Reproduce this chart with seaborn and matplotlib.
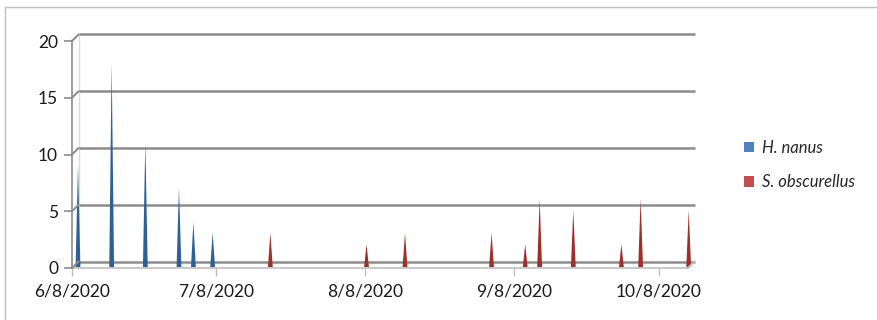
import numpy as np
import pandas as pd
import matplotlib
matplotlib.use("Agg")
import matplotlib.pyplot as plt
import matplotlib.transforms as mtransforms
import matplotlib.dates as mdates
from matplotlib.patches import Patch
import seaborn as sns

# ---- data ----
h_dates = ["2020-06-08", "2020-06-15", "2020-06-22", "2020-06-29", "2020-07-02", "2020-07-06"]
h_values = [9, 18, 11, 7, 4, 3]
s_dates = ["2020-07-18", "2020-08-07", "2020-08-15", "2020-09-02", "2020-09-09",
           "2020-09-12", "2020-09-19", "2020-09-29", "2020-10-03", "2020-10-13"]
s_values = [3, 2, 3, 3, 2, 6, 5, 2, 6, 5]
series_names = ["H. nanus", "S. obscurellus"]
tick_dates = ["2020-06-08", "2020-07-08", "2020-08-08", "2020-09-08", "2020-10-08"]
tick_labels = ["6/8/2020", "7/8/2020", "8/8/2020", "9/8/2020", "10/8/2020"]
y_ticks = [0, 5, 10, 15, 20]

df = pd.DataFrame({
    "date": pd.to_datetime(h_dates + s_dates),
    "value": h_values + s_values,
    "species": [series_names[0]] * len(h_dates) + [series_names[1]] * len(s_dates),
})

sns.set_theme(style="white")
plt.rcParams["font.family"] = ["Lato", "DejaVu Sans"]

W, H = 877, 320
fig = plt.figure(figsize=(W / 100, H / 100), dpi=100)
ax = fig.add_axes([72 / W, 52 / H, (688 - 72) / W, (268 - 41) / H])

x0 = mdates.date2num(pd.Timestamp("2020-06-08"))
ax.set_xlim(x0, x0 + 128.1)
ax.set_ylim(0, 20)

grid_col = "#8c8c8c"
dx, dy = 6.5, 6.5  # 3D depth offset in pixels
back = mtransforms.offset_copy(ax.transData, fig=fig, x=dx, y=dy, units="dots")
xl = ax.get_xlim()

# back wall gridlines and connectors
for v in y_ticks:
    ax.plot([xl[0], xl[1]], [v, v], transform=back, color=grid_col, lw=1.8,
            solid_capstyle="butt", clip_on=False, zorder=1)
    p0 = ax.transData.transform((xl[0], v))
    p1 = back.transform((xl[0], v))
    fig.add_artist(plt.Line2D([p0[0] / W, p1[0] / W], [p0[1] / H, p1[1] / H],
                              transform=fig.transFigure, color=grid_col, lw=1.5))
ax.plot([xl[0], xl[0]], [0, 20], transform=back, color="#d9d9d9", lw=0.8,
        clip_on=False, zorder=0)

# floor (front edge + right slant)
ax.plot([xl[0], xl[1]], [0, 0], color="#bfbfbf", lw=1.2, clip_on=False, zorder=1)
pr0 = ax.transData.transform((xl[1], 0))
pr1 = back.transform((xl[1], 0))
fig.add_artist(plt.Line2D([pr0[0] / W, pr1[0] / W], [pr0[1] / H, pr1[1] / H],
                          transform=fig.transFigure, color="#bfbfbf", lw=1.5))

# spikes (thin cones)
spike_tr = mtransforms.offset_copy(ax.transData, fig=fig, x=6.0, y=1.0, units="dots")
colors = {series_names[0]: "#2f5f98", series_names[1]: "#9e2f2b"}
half_w = 0.5  # days
for _, r in df.iterrows():
    d = mdates.date2num(r["date"])
    ax.fill([d - half_w, d, d + half_w], [0, r["value"], 0], color=colors[r["species"]],
            transform=spike_tr, lw=0, zorder=3, clip_on=False)

# axes styling
for s in ["top", "right", "bottom"]:
    ax.spines[s].set_visible(False)
ax.spines["left"].set_color(grid_col)
ax.spines["left"].set_linewidth(1.2)
ax.set_yticks(y_ticks)
ax.set_yticklabels([str(v) for v in y_ticks])
ax.set_xticks([mdates.date2num(pd.Timestamp(t)) for t in tick_dates])
ax.set_xticklabels(tick_labels)
ax.tick_params(axis="y", length=6, width=1.2, color=grid_col, labelsize=12.5,
               labelcolor="#1a1a1a", pad=4, left=True)
ax.tick_params(axis="x", length=6, width=1.0, color="#bfbfbf", labelsize=12.5,
               labelcolor="#1a1a1a", pad=5, bottom=True)
ax.set_xlabel("")
ax.set_ylabel("")
ax.patch.set_alpha(0)

# legend
handles = [Patch(facecolor="#4f81bd", edgecolor="none"),
           Patch(facecolor="#c0504d", edgecolor="none")]
leg = fig.legend(handles, series_names, loc="center left",
                 bbox_to_anchor=(729 / W, 1 - 165 / H), frameon=False,
                 prop={"style": "italic", "size": 12}, handlelength=0.6,
                 handleheight=0.6, handletextpad=0.5, labelspacing=1.1)

# chart border (top and left)
fig.add_artist(plt.Line2D([5 / W, 1], [1 - 7 / H, 1 - 7 / H], transform=fig.transFigure,
                          color="#bfbfbf", lw=1))
fig.add_artist(plt.Line2D([5 / W, 5 / W], [0, 1 - 7 / H], transform=fig.transFigure,
                          color="#bfbfbf", lw=1))

fig.savefig("out.png", dpi=100)
